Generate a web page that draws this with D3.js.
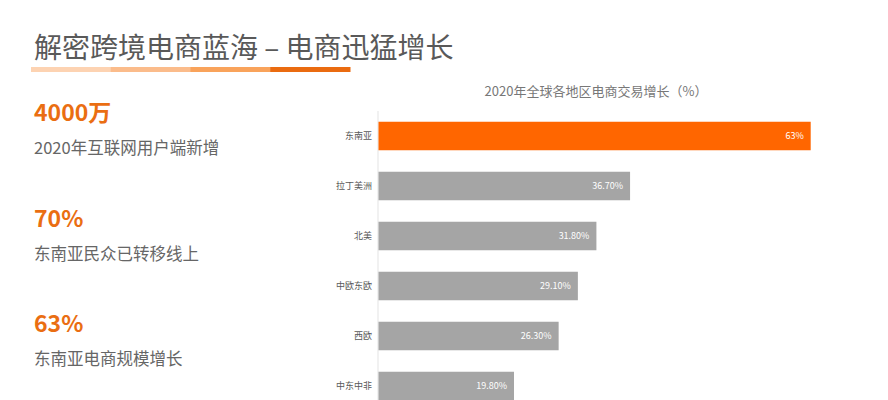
<!DOCTYPE html>
<html><head><meta charset="utf-8">
<script src="https://cdn.jsdelivr.net/npm/d3@7/dist/d3.min.js"></script>
<style>html,body{margin:0;padding:0;background:#fff;}svg{display:block;}</style>
</head><body>
<script>
const pageTitle = "解密跨境电商蓝海 – 电商迅猛增长";
const statValues = ["4000万", "70%", "63%"];
const statLabels = ["2020年互联网用户端新增", "东南亚民众已转移线上", "东南亚电商规模增长"];
const chartTitle = "2020年全球各地区电商交易增长（%）";
const regions = ["东南亚", "拉丁美洲", "北美", "中欧东欧", "西欧", "中东中非"];
const growth = [63, 36.7, 31.8, 29.1, 26.3, 19.8];
const growthLabels = ["63%", "36.70%", "31.80%", "29.10%", "26.30%", "19.80%"];
const underlineColors = ["#FDD3B2", "#FBBC8B", "#F9A35B", "#EA6B10"];

const W = 888, H = 400;
const font = "'Noto Sans CJK SC', 'Noto Sans', sans-serif";
const svg = d3.select("body").append("svg").attr("width", W).attr("height", H);
svg.append("rect").attr("width", W).attr("height", H).attr("fill", "#fff");

// Page title
svg.append("text").attr("x", 34).attr("y", 58)
  .attr("font-family", font).attr("font-size", 28).attr("fill", "#595959")
  .text(pageTitle);

// Underline segments
const ux = d3.scaleBand().domain(d3.range(underlineColors.length)).range([31, 350]);
svg.selectAll("rect.ul").data(underlineColors).join("rect").attr("class", "ul")
  .attr("x", (d, i) => ux(i)).attr("y", 67).attr("width", ux.bandwidth() + 0.5).attr("height", 5)
  .attr("fill", d => d);

// Left stats
const sy = d3.scaleLinear().domain([0, 1]).range([121, 226.5]);
const stats = svg.selectAll("g.stat").data(statValues).join("g").attr("class", "stat")
  .attr("transform", (d, i) => `translate(34,${sy(i)})`);
stats.append("text").attr("font-family", font).attr("font-weight", "bold")
  .attr("font-size", 23).attr("fill", "#EA6E12").text(d => d);
stats.append("text").attr("y", 33).attr("font-family", font)
  .attr("font-size", 16.5).attr("fill", "#666").text((d, i) => statLabels[i]);

// Bar chart
const x = d3.scaleLinear().domain([0, 63]).range([378, 810.7]);
const y = d3.scaleBand().domain(regions).range([111, 411]).paddingInner(0.43).paddingOuter(0.215);

svg.append("text").attr("x", 596).attr("y", 96).attr("text-anchor", "middle")
  .attr("font-family", font).attr("font-size", 13).attr("fill", "#777").text(chartTitle);

svg.append("line").attr("x1", 378).attr("x2", 378).attr("y1", 111).attr("y2", 411)
  .attr("stroke", "#e3e3e3").attr("stroke-width", 1);

const data = regions.map((r, i) => ({ r, v: growth[i], l: growthLabels[i] }));
svg.selectAll("rect.bar").data(data).join("rect").attr("class", "bar")
  .attr("x", x(0) + 0.5).attr("y", d => y(d.r))
  .attr("width", d => x(d.v) - x(0) - 0.5).attr("height", y.bandwidth())
  .attr("fill", (d, i) => i === 0 ? "#FF6600" : "#A5A5A5");

svg.selectAll("text.val").data(data).join("text").attr("class", "val")
  .attr("x", d => x(d.v) - 7).attr("y", d => y(d.r) + y.bandwidth() / 2)
  .attr("dy", "0.35em").attr("text-anchor", "end")
  .attr("font-family", font).attr("font-size", 9).attr("fill", "#fff").text(d => d.l);

const yAxis = svg.append("g").attr("transform", "translate(378,0)")
  .call(d3.axisLeft(y).tickSize(0).tickPadding(6));
yAxis.select(".domain").remove();
yAxis.selectAll("text").attr("font-family", font).attr("font-size", 9).attr("fill", "#595959");
</script>
</body></html>
